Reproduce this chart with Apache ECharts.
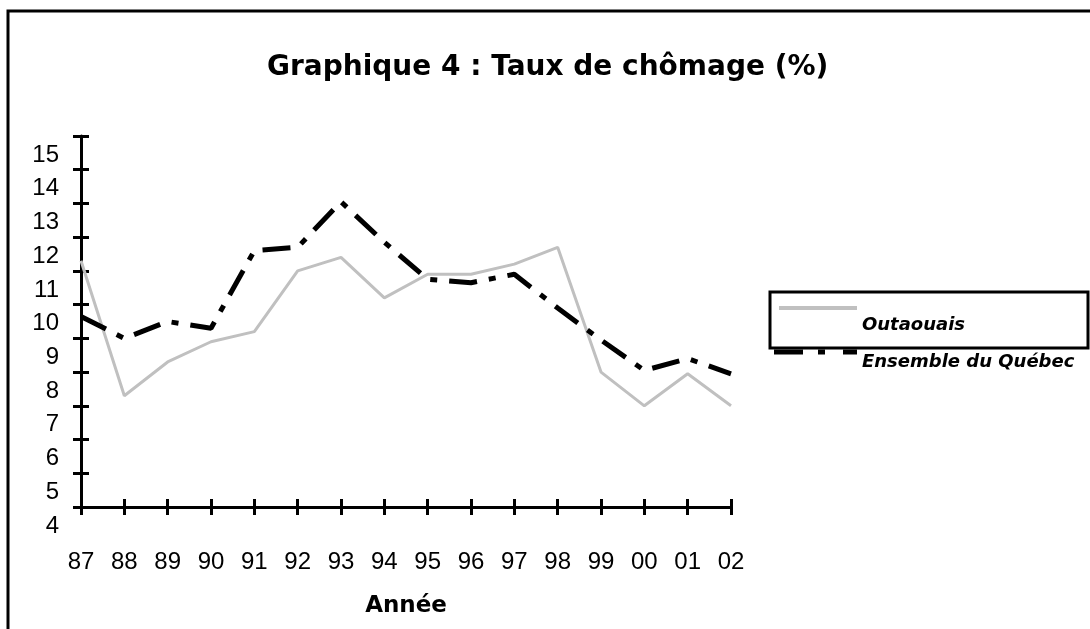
<!DOCTYPE html>
<html>
<head>
	<meta charset="UTF-8">
	<title>Graphique 4 : Taux de chômage (%)</title>
	<style>
		html, body { margin: 0; padding: 0; background: #fff; }
		#chart { width: 1090px; height: 629px; }
	</style>
</head>
<body>
<div id="chart"></div>
<script src="https://cdn.jsdelivr.net/npm/echarts@6/dist/echarts.min.js"></script>
<script type="text/javascript">
	// années
	var annees = ['87','88','89','90','91','92','93','94','95','96','97','98','99','00','01','02'];
	// taux de chômage (%)
	var outaouais = [11.3, 7.3, 8.3, 8.9, 9.2, 11.0, 11.4, 10.2, 10.9, 10.9, 11.2, 11.7, 8.0, 7.0, 7.95, 7.0];
	var quebec = [9.65, 9.0, 9.5, 9.3, 11.6, 11.7, 13.05, 11.85, 10.75, 10.65, 10.9, 9.9, 8.95, 8.05, 8.4, 7.95];

	var chart = echarts.init(document.getElementById('chart'));

	var legendText = {
		fontFamily: 'DejaVu Sans',
		fontWeight: 'bold',
		fontStyle: 'italic',
		fontSize: 18,
		color: '#000'
	};

	var option = {
		animation: false,
		backgroundColor: '#fff',
		title: {
			text: 'Graphique 4 : Taux de chômage (%)',
			left: 262,
			top: 49,
			textStyle: {
				fontFamily: 'DejaVu Sans',
				fontWeight: 'bold',
				fontSize: 28,
				color: '#000'
			}
		},
		grid: {
			left: 81,
			right: 359,
			top: 136,
			bottom: 122,
			containLabel: false
		},
		legend: [
			{
				data: ['Outaouais'],
				left: 779,
				top: 274,
				padding: 0,
				itemWidth: 78,
				itemHeight: 4,
				icon: 'rect',
				formatter: '\n{name}',
				textStyle: Object.assign({ lineHeight: 34 }, legendText)
			},
			{
				data: ['Ensemble du Québec'],
				left: 774,
				top: 332,
				padding: 0,
				itemWidth: 83,
				itemHeight: 5,
				// trait long, point, trait long (comme le tireté de la série)
				icon: 'path://M0,0h29v5h-29z M44,0h7v5h-7z M69,0h14v5h-14z',
				formatter: '\n{name}',
				textStyle: Object.assign({ lineHeight: 20 }, legendText)
			}
		],
		xAxis: [
			{
				type: 'category',
				data: annees,
				boundaryGap: false,
				name: 'Année',
				nameLocation: 'middle',
				nameGap: 88,
				nameTextStyle: {
					fontFamily: 'DejaVu Sans',
					fontWeight: 'bold',
					fontSize: 23,
					color: '#000'
				},
				axisLine: { lineStyle: { color: '#000', width: 3 } },
				axisTick: { alignWithLabel: true, length: 8, lineStyle: { color: '#000', width: 3 } },
				axisLabel: {
					interval: 0,
					margin: 43,
					fontFamily: 'Liberation Sans',
					fontSize: 24,
					color: '#000'
				},
				splitLine: { show: false }
			},
			{
				type: 'category',
				data: annees,
				boundaryGap: false,
				position: 'bottom',
				axisLine: { show: false },
				axisTick: { inside: true, length: 8, lineStyle: { color: '#000', width: 3 } },
				axisLabel: { show: false },
				splitLine: { show: false }
			}
		],
		yAxis: [
			{
				type: 'value',
				min: 4,
				max: 15,
				interval: 1,
				axisLine: { show: true, lineStyle: { color: '#000', width: 3 } },
				axisTick: { show: true, length: 8, lineStyle: { color: '#000', width: 3 } },
				axisLabel: {
					margin: 22,
					verticalAlign: 'top',
					padding: [7, 0, 0, 0],
					fontFamily: 'Liberation Sans',
					fontSize: 24,
					color: '#000'
				},
				splitLine: { show: false }
			},
			{
				type: 'value',
				min: 4,
				max: 15,
				interval: 1,
				position: 'left',
				axisLine: { show: false },
				axisTick: { show: true, inside: true, length: 8, lineStyle: { color: '#000', width: 3 } },
				axisLabel: { show: false },
				splitLine: { show: false }
			}
		],
		graphic: [
			{
				// cadre du graphique
				type: 'rect',
				shape: { x: 8, y: 11, width: 1100, height: 640 },
				style: { fill: 'none', stroke: '#000', lineWidth: 3 },
				z: 100
			},
			{
				// cadre de la légende
				type: 'rect',
				shape: { x: 770, y: 292, width: 318, height: 56 },
				style: { fill: 'none', stroke: '#000', lineWidth: 3 },
				z: 100
			}
		],
		series: [
			{
				name: 'Outaouais',
				type: 'line',
				data: outaouais,
				showSymbol: false,
				symbol: 'none',
				color: '#c0c0c0',
				lineStyle: { color: '#c0c0c0', width: 3 },
				z: 2
			},
			{
				name: 'Ensemble du Québec',
				type: 'line',
				data: quebec,
				showSymbol: false,
				symbol: 'none',
				color: '#000',
				lineStyle: { color: '#000', width: 5, type: [28, 12, 7, 12], cap: 'butt' },
				z: 3
			}
		]
	};

	chart.setOption(option);
</script>
</body>
</html>
